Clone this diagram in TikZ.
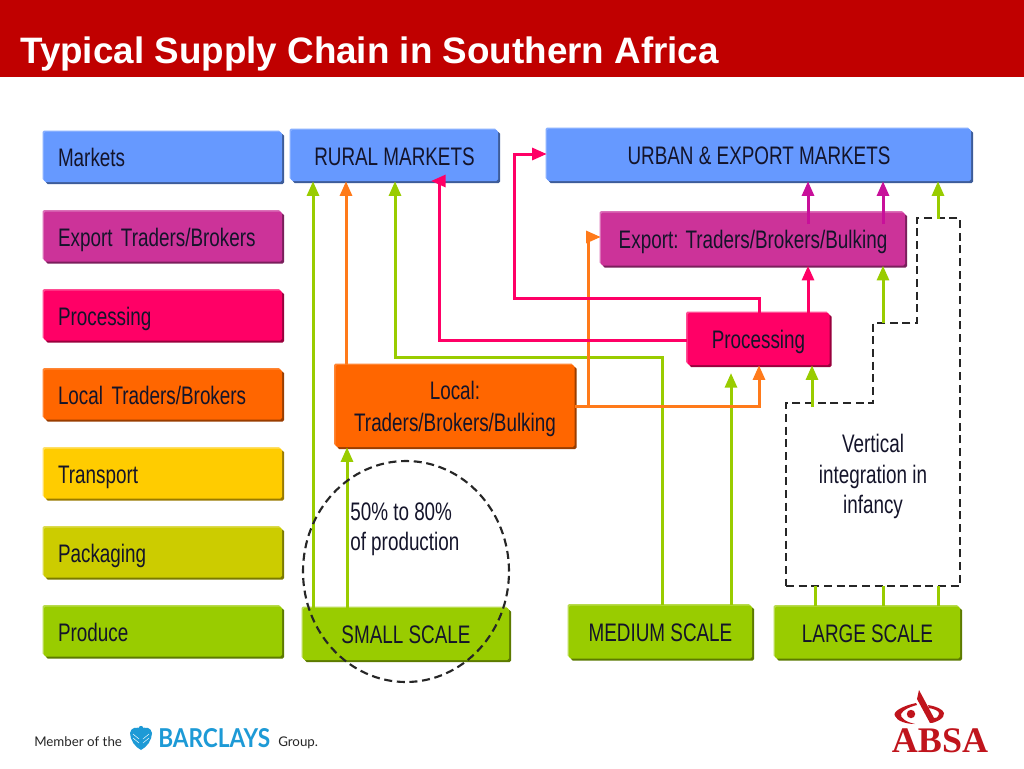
\documentclass[tikz,border=0pt]{standalone}
\usepackage{fontspec}
\setmainfont{Liberation Sans}
\newfontfamily\nar[FakeStretch=0.745]{Liberation Sans}
\newfontfamily\lat{Lato}
\newfontfamily\latn[FakeStretch=0.87]{Lato}
\newfontfamily\ser{Liberation Serif}
\usetikzlibrary{shadows,arrows.meta,shapes.geometric}
\definecolor{hdr}{HTML}{C00000}
\definecolor{cblue}{HTML}{6699FF}\definecolor{dblue}{HTML}{3D5C99}\definecolor{lblue}{HTML}{85ADFF}
\definecolor{cmag}{HTML}{CC3399}\definecolor{dmag}{HTML}{7A1F5C}\definecolor{lmag}{HTML}{DB70B8}
\definecolor{cpink}{HTML}{FF0066}\definecolor{dpink}{HTML}{99003D}\definecolor{lpink}{HTML}{FF4D94}
\definecolor{corg}{HTML}{FF6600}\definecolor{dorg}{HTML}{993D00}\definecolor{lorg}{HTML}{FF8533}
\definecolor{cyel}{HTML}{FFCC00}\definecolor{dyel}{HTML}{997A00}\definecolor{lyel}{HTML}{FFE066}
\definecolor{cpkg}{HTML}{CCCC00}\definecolor{dpkg}{HTML}{7A7A00}\definecolor{lpkg}{HTML}{DBDB4D}
\definecolor{cgrn}{HTML}{99CC00}\definecolor{dgrn}{HTML}{5C7A00}\definecolor{lgrn}{HTML}{B8DB4D}
\definecolor{lgreen}{HTML}{99CC00}\definecolor{lorange}{HTML}{FF7A1A}\definecolor{lpinkl}{HTML}{FF0066}\definecolor{lmagl}{HTML}{C8109A}
\definecolor{inkc}{HTML}{14142A}
\definecolor{bblue}{HTML}{1D9AD6}
\definecolor{absar}{HTML}{C0141C}
\tikzset{
  x=0.75pt,y=-0.75pt,
  bx/.style n args={3}{fill=#1,draw=none,rounded corners=1.2pt,inner sep=0pt,align=center,
     text=inkc,font=\nar\fontsize{19}{24}\selectfont,text height=14.25pt,text depth=0pt,
     general shadow={fill=#3,shadow xshift=-1.1pt,shadow yshift=1.1pt},
     general shadow={fill=#2,shadow xshift=1.6pt,shadow yshift=-1.6pt}},
  sized/.style 2 args={minimum width=#1*0.75pt,minimum height=#2*0.75pt},
  rowbox/.style={text width=210*0.75pt,inner xsep=14*0.75pt,align=left,minimum height=50*0.75pt},
  link/.style={draw=#1,line width=2.25pt,-{Triangle[length=11pt,width=9pt]},line join=miter},
  plainlink/.style={draw=#1,line width=2.25pt},
  dashline/.style={draw=black!85,line width=1.6pt,dash pattern=on 6pt off 3.5pt},
  labeltxt/.style={font=\nar\fontsize{19}{23}\selectfont,text=inkc,align=center,inner sep=0pt,text depth=0pt}
}
\begin{document}
\begin{tikzpicture}
\useasboundingbox (0,0) rectangle (1024,768);
\fill[white] (0,0) rectangle (1024,768);
\fill[hdr] (0,0) rectangle (1024,77);
\node[anchor=base west,inner sep=0pt,text=white,font=\bfseries\fontsize{27.6}{30}\selectfont] (title) at (20,63) {Typical Supply Chain in Southern Africa};

% left column
\node[bx={cblue}{dblue}{lblue},rowbox] (rMarkets) at (163,157) {Markets};
\node[bx={cmag}{dmag}{lmag},rowbox] (rExport) at (163,236.5) {Export Traders/Brokers};
\node[bx={cpink}{dpink}{lpink},rowbox] (rProc) at (163,315.5) {Processing};
\node[bx={corg}{dorg}{lorg},rowbox] (rLocal) at (163,394.5) {Local Traders/Brokers};
\node[bx={cyel}{dyel}{lyel},rowbox] (rTrans) at (163,473.5) {Transport};
\node[bx={cpkg}{dpkg}{lpkg},rowbox] (rPack) at (163,552.5) {Packaging};
\node[bx={cgrn}{dgrn}{lgrn},rowbox] (rProd) at (163,631.5) {Produce};

% main boxes
\node[bx={cblue}{dblue}{lblue},sized={207}{51}] (rural) at (394.5,155.5) {RURAL MARKETS};
\node[bx={cblue}{dblue}{lblue},sized={424}{52}] (urban) at (759,155) {URBAN \& EXPORT MARKETS};
\node[bx={cmag}{dmag}{lmag},sized={304}{53}] (export) at (753,239) {Export: Traders/Brokers/Bulking};
\node[bx={cpink}{dpink}{lpink},sized={142}{52}] (proc) at (758.5,339) {Processing};
\node[bx={corg}{dorg}{lorg},sized={239}{82},text height=38.25pt] (local) at (455,406) {Local:\\Traders/Brokers/Bulking};
\node[bx={cgrn}{dgrn}{lgrn},sized={206}{52}] (small) at (406,634) {SMALL SCALE};
\node[bx={cgrn}{dgrn}{lgrn},sized={183}{53}] (medium) at (660.5,632) {MEDIUM SCALE};
\node[bx={cgrn}{dgrn}{lgrn},sized={185}{52}] (large) at (867.5,632.5) {LARGE SCALE};

% dashed outline
\coordinate (d1) at (786,586);\coordinate (d2) at (960,586);\coordinate (d3) at (960,218);
\coordinate (d4) at (917,218);\coordinate (d5) at (917,323);\coordinate (d6) at (873,323);
\coordinate (d7) at (873,403);\coordinate (d8) at (786,403);
\draw[dashline] (d1)--(d2)--(d3)--(d4)--(d5)--(d6)--(d7)--(d8)--cycle;

% x guides and bends
\foreach \n/\v in {a/313,b/346,c/395,e/439,f/514,g/588,h/662,i/731,j/759,k/808,l/812,m/883,n/938,o/347,p/815}
  {\coordinate (x\n) at (\v,0);}
\coordinate (tipI) at (731,373);
\coordinate (pb1) at (439,340);\coordinate (pb2) at (439,181);\coordinate (pb3) at (431,181);
\coordinate (qb1) at (759,298);\coordinate (qb2) at (514,298);\coordinate (qb3) at (514,154);
\coordinate (gb1) at (662,357);\coordinate (gb2) at (395,357);
\coordinate (ob1) at (588,406);\coordinate (ob2) at (588,237);\coordinate (ob3) at (759,406);
\coordinate (ex1) at (808,224);\coordinate (ex2) at (883,224);
\coordinate (dsh) at (812,407);\coordinate (dtop) at (883,323);\coordinate (dtp2) at (938,219);

% green
\draw[link=lgreen] (small.north -| xa) -- (rural.south -| xa);
\draw[link=lgreen] (small.north -| xo) -- (local.south -| xo);
\draw[link=lgreen] (medium.north -| xh) -- (gb1) -- (gb2) -- (rural.south -| xc);
\draw[link=lgreen] (medium.north -| xi) -- (tipI);
\draw[link=lgreen] (dsh) -- (proc.south -| xl);
\draw[link=lgreen] (dtop) -- (export.south -| xm);
\draw[link=lgreen] (dtp2) -- (urban.south -| xn);
\draw[plainlink=lgreen] (large.north -| xp) -- (xp |- d1);
\draw[plainlink=lgreen] (large.north -| xm) -- (xm |- d1);
\draw[plainlink=lgreen] (large.north -| xn) -- (xn |- d1);
% orange
\draw[link=lorange] (local.east |- ob1) -- (ob3) -- (proc.south -| xj);
\draw[link=lorange] (local.north -| xb) -- (rural.south -| xb);
\draw[link=lorange] (ob1) -- (ob2) -- (export.west |- ob2);
% pink
\draw[link=lpinkl] (proc.west |- pb1) -- (pb1) -- (pb2) -- (pb3);
\draw[link=lpinkl] (proc.north -| qb1) -- (qb1) -- (qb2) -- (qb3) -- (urban.west |- qb3);
\draw[link=lpinkl] (proc.north -| xk) -- (export.south -| xk);
% magenta
\draw[link=lmagl] (ex1) -- (urban.south -| xk);
\draw[link=lmagl] (ex2) -- (urban.south -| xm);

% circle
\node[dashline,ellipse,inner sep=0pt,minimum width=154.5pt,minimum height=165.75pt] (circ) at (406,571.5) {};

% labels
\node[labeltxt,anchor=north west,align=left,text height=37.25pt] (pct) at (350,501) {50\% to 80\%\\of production};
\node[labeltxt,text height=60.25pt] (vert) at (873,473.5) {Vertical\\integration in\\infancy};

% Barclays footer
\node[anchor=base west,inner sep=0pt,font=\lat\fontsize{10}{12}\selectfont,text=black!85] (mem) at (34,746) {Member of the};
\fill[bblue] (141,729) .. controls (137,726.5) and (131,727) .. (130,733) .. controls (130,740) and (135,747) .. (141,750) .. controls (147,747) and (152,740) .. (152,733) .. controls (151,727) and (145,726.5) .. (141,729) -- cycle;
\fill[bblue] (141,728.5) circle (2.6);
\draw[white,line width=0.35pt] (133,734)--(139,739) (133,738)--(139,743) (149,734)--(143,739) (149,738)--(143,743);
\node[anchor=base west,inner sep=0pt,font=\latn\bfseries\fontsize{19.5}{21}\selectfont,text=bblue] (barc) at (158,747) {BARCLAYS};
\node[anchor=base west,inner sep=0pt,font=\lat\fontsize{10}{12}\selectfont,text=black!85] (grp) at (278,746) {Group.};

% ABSA logo
\node[anchor=base,inner sep=0pt,font=\ser\bfseries\fontsize{27}{28}\selectfont,text=absar] (absa) at (940,752) {ABSA};
\fill[absar] (916,703) .. controls (902,706) and (892,712) .. (895,716) .. controls (897,721) and (906,724) .. (915,724) .. controls (906,722) and (900,718) .. (901,714) .. controls (903,710) and (909,707) .. (917,705) -- cycle;
\fill[absar] (911,714) circle (4.2);
\fill[absar] (919,690) -- (917,699) -- (930,723) .. controls (936,723) and (945,718) .. (944,713) .. controls (943,709) and (935,706) .. (928,705) -- (929,708) .. controls (934,709) and (940,711) .. (939,714) .. controls (938,717) and (936,719) .. (934,718) -- cycle;
\end{tikzpicture}
\end{document}
